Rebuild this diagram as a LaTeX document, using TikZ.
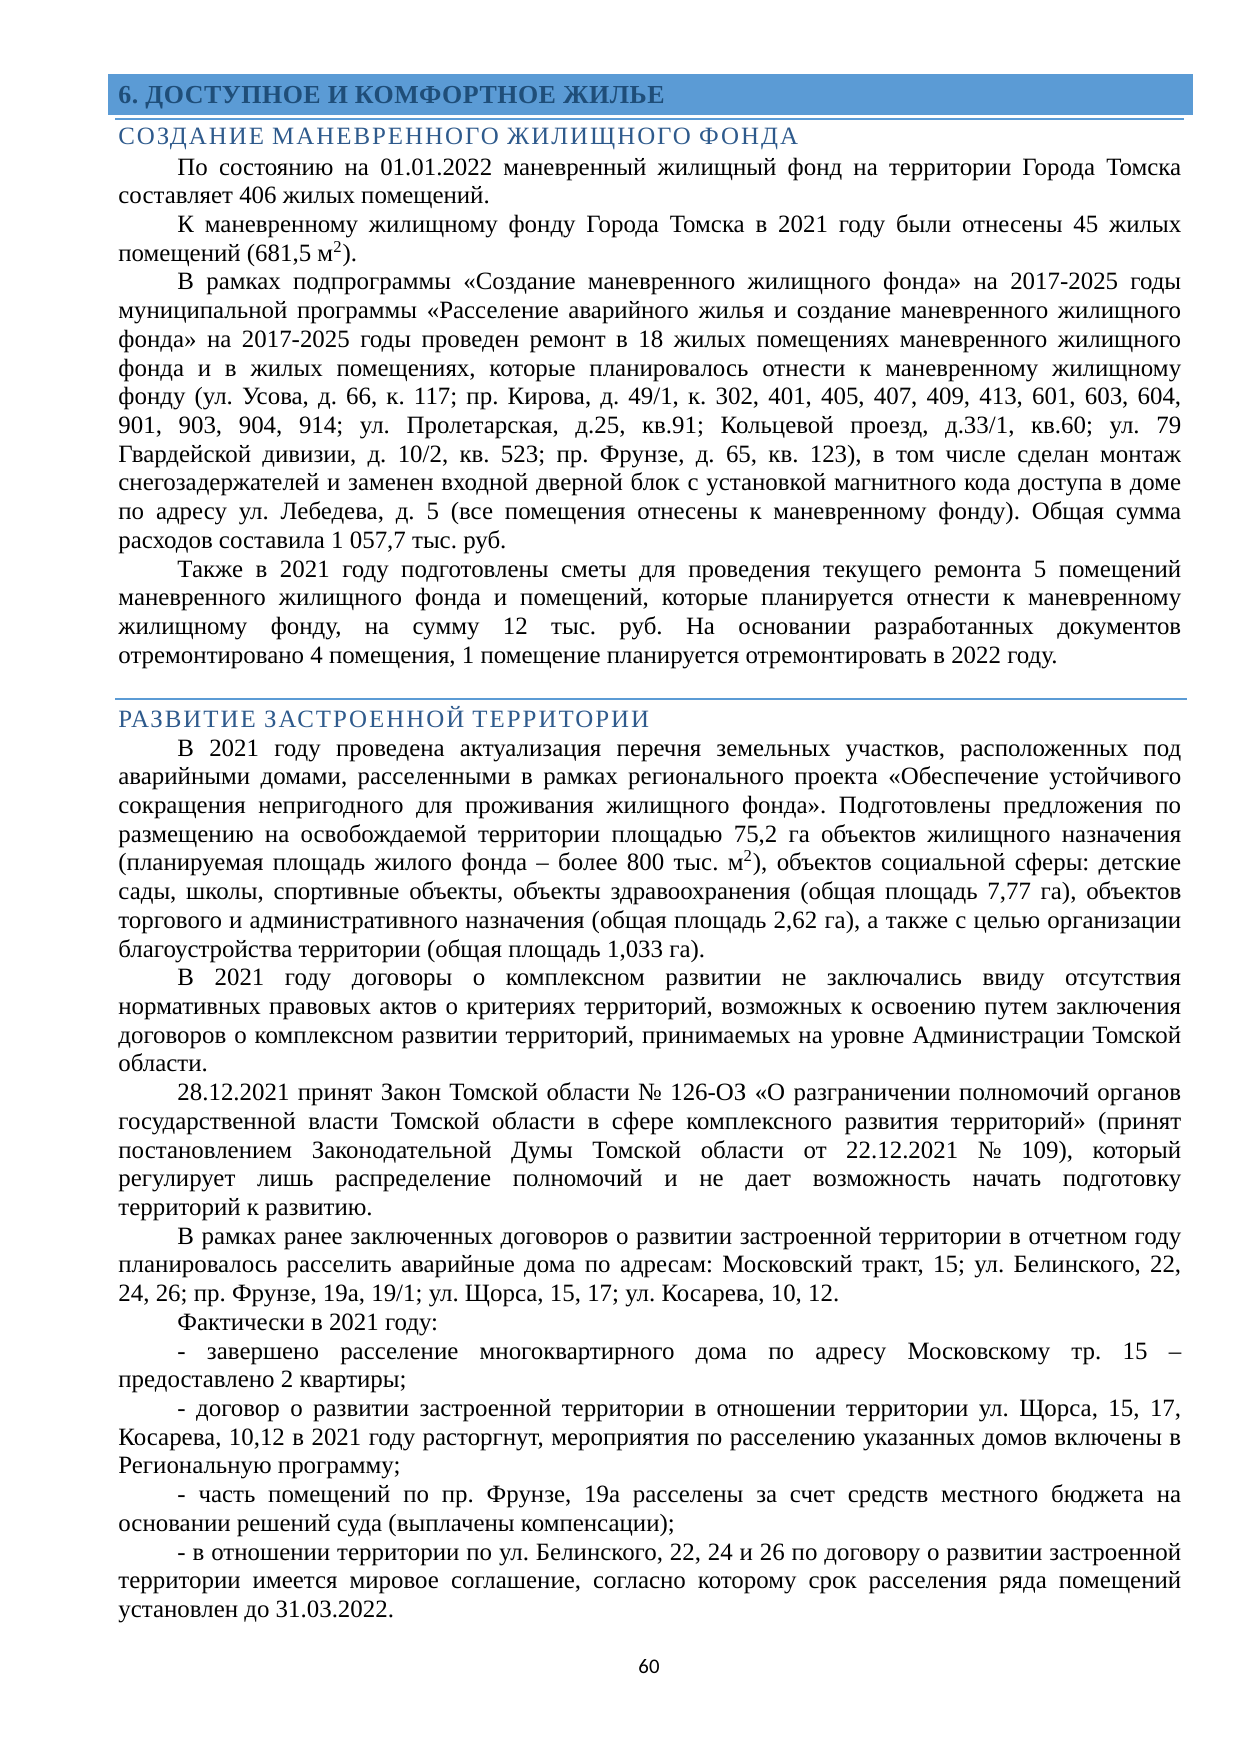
\documentclass[tikz,border=0pt]{standalone}
\usepackage{fontspec}
\setmainfont{Liberation Serif}
\newfontfamily\headfont[LetterSpace=8]{Liberation Serif}
\newfontfamily\barfont[LetterSpace=2]{Liberation Serif}
\newfontfamily\pagefont{Carlito}
\definecolor{Bar}{HTML}{5B9BD5}
\definecolor{BarText}{HTML}{1F4E79}
\definecolor{Head}{HTML}{2E5A8C}
\tolerance=10000
\hbadness=10000
\hyphenpenalty=10000
\exhyphenpenalty=10000
\lineskiplimit=-20pt
\frenchspacing
\newcommand{\firstpp}{\hspace*{1cm}\ignorespaces}
\newcommand{\pp}{\par\hspace*{1cm}\ignorespaces}
\tikzset{
  body/.style={anchor=base west, inner sep=0pt, text width=18cm, align=justify,
    font=\frenchspacing\fontsize{12pt}{13.84pt}\selectfont},
  head/.style={anchor=base west, inner sep=0pt, text=Head,
    font=\headfont\fontsize{12pt}{14pt}\selectfont},
  rule/.style={draw=Bar, line width=1pt}
}

\begin{document}
\begin{tikzpicture}[x=0.016935cm, y=-0.016935cm]
    \useasboundingbox (0,0) rectangle (1240,1754);

    % chapter bar
    \fill[Bar] (108,74) rectangle (1193,115);
    \draw[rule] (115,119) -- (1184,119);
    \node at (118,103) (chapter) [anchor=base west, inner sep=0pt, text=BarText,
      font=\barfont\bfseries\fontsize{12.5pt}{14pt}\selectfont] {6. ДОСТУПНОЕ И КОМФОРТНОЕ ЖИЛЬЕ};

    % first section
    \node at (118,144) (head1) [head] {СОЗДАНИЕ МАНЕВРЕННОГО ЖИЛИЩНОГО ФОНДА};
    \node at (118,175) (body1) [body] {\firstpp По состоянию на 01.01.2022 маневренный жилищный фонд на территории Города Томска \linebreak
      составляет 406 жилых помещений.
      \pp К маневренному жилищному фонду Города Томска в 2021 году были отнесены 45 жилых \linebreak
      помещений (681,5 м\textsuperscript{2}).
      \pp В рамках подпрограммы «Создание маневренного жилищного фонда» на 2017-2025 годы \linebreak
      муниципальной программы «Расселение аварийного жилья и создание маневренного жилищного \linebreak
      фонда» на 2017-2025 годы проведен ремонт в 18 жилых помещениях маневренного жилищного \linebreak
      фонда и в жилых помещениях, которые планировалось отнести к маневренному жилищному \linebreak
      фонду (ул. Усова, д. 66, к. 117; пр. Кирова, д. 49/1, к. 302, 401, 405, 407, 409, 413, 601, 603, 604, \linebreak
      901, 903, 904, 914; ул. Пролетарская, д.25, кв.91; Кольцевой проезд, д.33/1, кв.60; ул. 79 \linebreak
      Гвардейской дивизии, д. 10/2, кв. 523; пр. Фрунзе, д. 65, кв. 123), в том числе сделан монтаж \linebreak
      снегозадержателей и заменен входной дверной блок с установкой магнитного кода доступа в доме \linebreak
      по адресу ул. Лебедева, д. 5 (все помещения отнесены к маневренному фонду). Общая сумма \linebreak
      расходов составила 1 057,7 тыс. руб.
      \pp Также в 2021 году подготовлены сметы для проведения текущего ремонта 5 помещений \linebreak
      маневренного жилищного фонда и помещений, которые планируется отнести к маневренному \linebreak
      жилищному фонду, на сумму 12 тыс. руб. На основании разработанных документов \linebreak
      отремонтировано 4 помещения, 1 помещение планируется отремонтировать в 2022 году.};

    % second section
    \draw[rule] (115,699) -- (1187,699);
    \node at (118,727) (head2) [head] {РАЗВИТИЕ ЗАСТРОЕННОЙ ТЕРРИТОРИИ};
    \node at (118,756) (body2) [body] {\firstpp В 2021 году проведена актуализация перечня земельных участков, расположенных под \linebreak
      аварийными домами, расселенными в рамках регионального проекта «Обеспечение устойчивого \linebreak
      сокращения непригодного для проживания жилищного фонда». Подготовлены предложения по \linebreak
      размещению на освобождаемой территории площадью 75,2 га объектов жилищного назначения \linebreak
      (планируемая площадь жилого фонда – более 800 тыс. м\textsuperscript{2}), объектов социальной сферы: детские \linebreak
      сады, школы, спортивные объекты, объекты здравоохранения (общая площадь 7,77 га), объектов \linebreak
      торгового и административного назначения (общая площадь 2,62 га), а также с целью организации \linebreak
      благоустройства территории (общая площадь 1,033 га).
      \pp В 2021 году договоры о комплексном развитии не заключались ввиду отсутствия \linebreak
      нормативных правовых актов о критериях территорий, возможных к освоению путем заключения \linebreak
      договоров о комплексном развитии территорий, принимаемых на уровне Администрации Томской \linebreak
      области.
      \pp 28.12.2021 принят Закон Томской области № 126-ОЗ «О разграничении полномочий органов \linebreak
      государственной власти Томской области в сфере комплексного развития территорий» (принят \linebreak
      постановлением Законодательной Думы Томской области от 22.12.2021 № 109), который \linebreak
      регулирует лишь распределение полномочий и не дает возможность начать подготовку \linebreak
      территорий к развитию.
      \pp В рамках ранее заключенных договоров о развитии застроенной территории в отчетном году \linebreak
      планировалось расселить аварийные дома по адресам: Московский тракт, 15; ул. Белинского, 22, \linebreak
      24, 26; пр. Фрунзе, 19а, 19/1; ул. Щорса, 15, 17; ул. Косарева, 10, 12.
      \pp Фактически в 2021 году:
      \pp - завершено расселение многоквартирного дома по адресу Московскому тр. 15 – \linebreak
      предоставлено 2 квартиры;
      \pp - договор о развитии застроенной территории в отношении территории ул. Щорса, 15, 17, \linebreak
      Косарева, 10,12 в 2021 году расторгнут, мероприятия по расселению указанных домов включены в \linebreak
      Региональную программу;
      \pp - часть помещений по пр. Фрунзе, 19а расселены за счет средств местного бюджета на \linebreak
      основании решений суда (выплачены компенсации);
      \pp - в отношении территории по ул. Белинского, 22, 24 и 26 по договору о развитии застроенной \linebreak
      территории имеется мировое соглашение, согласно которому срок расселения ряда помещений \linebreak
      установлен до 31.03.2022.};

    % page number
    \node at (649,1673) (pagenum) [anchor=base, inner sep=0pt, font=\pagefont\fontsize{10pt}{12pt}\selectfont] {60};
\end{tikzpicture}
\end{document}
